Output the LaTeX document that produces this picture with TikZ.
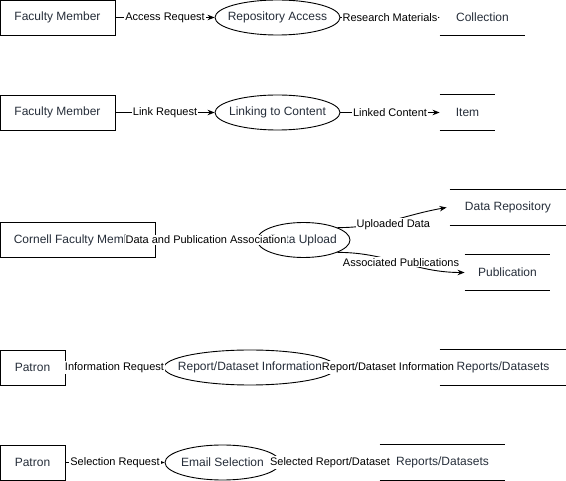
\documentclass[tikz,border=0pt]{standalone}
\usepackage{fontspec}
\setmainfont{Liberation Sans}
\usetikzlibrary{arrows.meta,positioning,shapes.geometric}
\definecolor{dfdtext}{RGB}{38,46,58}
\newcommand{\dfdnodefont}{\fontsize{12}{14}\selectfont}
\newcommand{\dfdlabelfont}{\fontsize{11}{13}\selectfont}
\tikzset{
  entity/.style={draw=black,fill=white,minimum width=#1,minimum height=35pt,
    inner sep=0pt,font=\dfdnodefont,text=dfdtext},
  process/.style={ellipse,draw=black,fill=white,minimum width=#1,minimum height=35pt,
    inner sep=0pt,font=\dfdnodefont,text=dfdtext,
    execute at begin node={\hbox to 0pt\bgroup\hss},
    execute at end node={\hss\egroup}},
  store/.style={minimum width=#1,minimum height=35pt,inner sep=0pt,
    font=\dfdnodefont,text=dfdtext,
    append after command={(\tikzlastnode.north west) edge (\tikzlastnode.north east)
      (\tikzlastnode.south west) edge (\tikzlastnode.south east)}},
  flow/.style={-{Stealth[length=7pt,width=5.5pt]}},
  flowlabel/.style={fill=white,inner sep=1pt,font=\dfdlabelfont,text=black}
}
\begin{document}
\begin{tikzpicture}[x=1pt,y=-1pt,line width=0.9pt]
  \useasboundingbox (0,0) rectangle (566,481);
  % Repository access
  \node[entity=115pt] (fac1) at (57.5,17.5) {Faculty Member};
  \node[process=125pt] (repo) at (277.5,17.5) {Repository Access};
  \node[store=85pt] (coll) at (482.5,17.5) {Collection};
  \draw[flow] (fac1) -- node[flowlabel]{Access Request} (repo);
  \draw[flow] (repo) -- node[flowlabel]{Research Materials} (coll);
  % Linking to content
  \node[entity=115pt] (fac2) at (57.5,112.5) {Faculty Member};
  \node[process=125pt] (link) at (277.5,112.5) {Linking to Content};
  \node[store=55pt] (item) at (467.5,112.5) {Item};
  \draw[flow] (fac2) -- node[flowlabel]{Link Request} (link);
  \draw[flow] (link) -- node[flowlabel]{Linked Content} (item);
  % Data upload
  \node[entity=155pt] (cfac) at (77.5,240) {Cornell Faculty Member};
  \node[process=93pt] (upload) at (303.5,240) {Data Upload};
  \node[store=116pt] (datarepo) at (508,207.5) {Data Repository};
  \node[store=85pt] (pub) at (507.5,272.5) {Publication};
  \draw[flow] (cfac) -- node[flowlabel]{Data and Publication Association} (upload);
  \draw[flow] (upload.20) to[out=0,in=190] node[flowlabel,pos=0.45,xshift=6pt,yshift=-3pt]{Uploaded Data} ([xshift=-3pt]datarepo.west);
  \draw[flow] (upload.-20) to[out=0,in=180] node[flowlabel]{Associated Publications} (pub.west);
  % Report/dataset information
  \node[entity=65pt] (patron1) at (32.5,367.5) {Patron};
  \node[process=172pt] (info) at (250,367.5) {Report/Dataset Information};
  \node[store=126pt] (reports1) at (503,367.5) {Reports/Datasets};
  \draw[flow] (patron1) -- node[flowlabel]{Information Request} (info);
  \draw[flow] (info) -- node[flowlabel]{Report/Dataset Information} (reports1);
  % Email selection
  \node[entity=65pt] (patron2) at (32.5,462.5) {Patron};
  \node[process=115pt] (email) at (222.5,462.5) {Email Selection};
  \node[store=125pt] (reports2) at (442.5,462.5) {Reports/Datasets};
  \draw[flow] (patron2) -- node[flowlabel]{Selection Request} (email);
  \draw[flow] (email) -- node[flowlabel]{Selected Report/Dataset} (reports2);
\end{tikzpicture}
\end{document}
